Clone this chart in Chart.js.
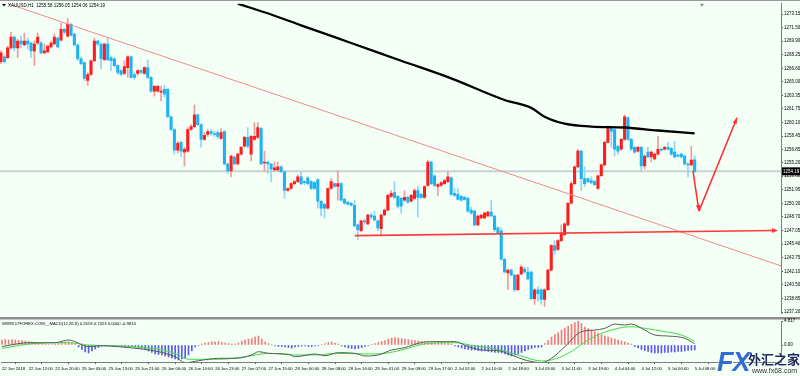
<!DOCTYPE html>
<html>
<head>
<meta charset="utf-8">
<script src="https://cdn.jsdelivr.net/npm/chart.js@4.4.1/dist/chart.umd.min.js"></script>
<style>
  body { margin: 0; width: 800px; height: 376px; overflow: hidden; position: relative; background: #f4fff6; font-family: "Liberation Sans", Arial, sans-serif; }
  #main { position: absolute; left: 0; top: 0; }
  #macd { position: absolute; left: 0; top: 317px; }
  #wm span { position: absolute; white-space: nowrap; }
  #wm .fx { left: 717px; top: 347px; font: italic bold 27px "Liberation Sans", Arial, sans-serif; color: #2f6fd2; text-shadow: 0 0 2px #fff, 1px 1px 0 #fff; letter-spacing: -1px; }
  #wm .cn { left: 748px; top: 352px; font: bold 13px "Noto Sans CJK SC", sans-serif; color: #1d2b5c; text-shadow: 0 0 2px #fff; line-height: 14px; }
  #wm .url { left: 752px; top: 367px; font: 7px "Liberation Sans", Arial, sans-serif; color: #333; line-height: 8px; text-shadow: 0 0 2px #fff; }
</style>
</head>
<body>
<canvas id="main" width="800" height="317"></canvas>
<canvas id="macd" width="800" height="59"></canvas>
<div id="wm"><span class="fx">FX</span><span class="cn">外汇之家</span><span class="url">www.fx68.com</span></div>
<script>
// XAUUSD H1, 22 Jun 2018 04:00 .. 5 Jul 2018 08:00 (one bar per hour)
const opens = [
  1267.42, 1268.01, 1267.90, 1269.08, 1270.39, 1269.08, 1269.91, 1269.44, 1269.91, 1269.68,
  1268.73, 1269.68, 1269.68, 1268.49, 1268.61, 1269.20, 1269.56, 1270.27, 1270.03, 1271.34,
  1270.51, 1271.93, 1270.74, 1269.44, 1267.78, 1267.30, 1265.17, 1265.88, 1267.54, 1269.91,
  1269.56, 1267.66, 1269.56, 1267.90, 1267.78, 1266.95, 1266.35, 1266.00, 1266.71, 1268.01,
  1265.88, 1266.00, 1266.35, 1266.00, 1266.71, 1265.52, 1263.86, 1263.86, 1263.74, 1264.10,
  1264.10, 1260.78, 1259.24, 1256.75, 1257.69, 1256.51, 1256.63, 1259.24, 1259.59, 1261.02,
  1259.83, 1258.05, 1258.64, 1259.00, 1258.76, 1258.88, 1258.17, 1259.00, 1255.08, 1254.25,
  1255.92, 1255.08, 1256.27, 1257.22, 1258.29, 1256.27, 1258.05, 1258.29, 1259.36, 1255.20,
  1255.32, 1255.08, 1254.37, 1254.37, 1254.73, 1254.14, 1251.88, 1252.12, 1252.71, 1252.95,
  1253.54, 1252.95, 1253.42, 1252.95, 1252.83, 1253.19, 1250.58, 1250.22, 1249.75, 1252.12,
  1252.71, 1252.36, 1252.71, 1250.81, 1250.46, 1250.34, 1250.10, 1247.73, 1247.02, 1248.21,
  1247.85, 1248.92, 1248.80, 1248.21, 1247.26, 1248.92, 1249.51, 1251.17, 1251.64, 1251.17,
  1250.93, 1250.70, 1251.05, 1250.58, 1250.93, 1251.88, 1251.41, 1251.05, 1252.48, 1255.32,
  1253.66, 1252.36, 1252.48, 1252.71, 1252.95, 1253.42, 1251.53, 1251.41, 1251.17, 1251.05,
  1250.93, 1249.51, 1249.39, 1247.73, 1248.56, 1248.56, 1248.80, 1249.27, 1248.80, 1247.37,
  1247.02, 1243.58, 1241.92, 1242.27, 1241.68, 1239.90, 1241.80, 1242.39, 1242.04, 1242.04,
  1238.83, 1239.90, 1239.90, 1238.72, 1239.90, 1242.27, 1245.24, 1244.77, 1245.83, 1246.54,
  1247.73, 1250.34, 1252.71, 1254.73, 1256.63, 1253.31, 1253.31, 1253.07, 1252.95, 1252.12,
  1253.66, 1254.97, 1257.69, 1259.47, 1259.24, 1257.22, 1256.86, 1258.05, 1260.66, 1258.05,
  1257.10, 1256.63, 1257.10, 1254.85, 1256.51, 1255.92, 1255.68, 1256.27, 1256.86, 1256.86,
  1257.10, 1256.98, 1256.51, 1256.15, 1256.27, 1256.03, 1255.08, 1254.97, 1255.58
];
const highs = [
  1268.73, 1268.25, 1269.32, 1270.98, 1270.51, 1270.15, 1270.51, 1270.86, 1270.27, 1269.79,
  1269.91, 1270.86, 1269.91, 1269.56, 1269.44, 1269.91, 1270.74, 1270.39, 1272.05, 1271.45,
  1272.64, 1272.05, 1270.86, 1269.56, 1268.01, 1267.42, 1266.12, 1267.66, 1270.27, 1270.03,
  1269.68, 1269.68, 1270.27, 1268.13, 1267.90, 1267.07, 1266.47, 1267.54, 1268.13, 1268.13,
  1266.12, 1266.47, 1266.47, 1266.83, 1267.66, 1265.64, 1264.57, 1264.57, 1264.46, 1264.57,
  1264.22, 1260.90, 1259.36, 1257.81, 1257.81, 1257.10, 1259.47, 1259.83, 1262.20, 1261.13,
  1259.95, 1258.88, 1259.24, 1259.24, 1259.00, 1259.12, 1259.36, 1259.12, 1255.20, 1256.15,
  1256.03, 1256.39, 1257.22, 1258.41, 1259.47, 1258.53, 1260.07, 1260.07, 1259.47, 1256.63,
  1255.44, 1255.20, 1255.32, 1255.32, 1254.85, 1254.25, 1252.24, 1252.83, 1253.07, 1253.78,
  1254.14, 1253.07, 1253.54, 1253.07, 1252.95, 1253.31, 1250.70, 1250.34, 1252.24, 1253.31,
  1252.83, 1254.25, 1252.83, 1250.93, 1250.58, 1250.46, 1250.70, 1247.85, 1248.32, 1248.44,
  1249.04, 1249.15, 1249.39, 1248.32, 1249.04, 1249.63, 1251.41, 1251.88, 1252.95, 1251.29,
  1251.05, 1251.88, 1251.17, 1251.41, 1252.12, 1252.36, 1251.53, 1252.48, 1255.56, 1255.44,
  1253.78, 1252.71, 1252.95, 1253.19, 1254.14, 1253.54, 1252.12, 1252.12, 1251.29, 1251.17,
  1251.05, 1249.87, 1249.51, 1248.92, 1249.04, 1249.27, 1249.39, 1250.70, 1248.92, 1247.49,
  1247.37, 1243.70, 1242.39, 1242.39, 1241.80, 1241.80, 1242.87, 1242.63, 1242.63, 1242.16,
  1240.02, 1240.26, 1240.02, 1240.02, 1242.39, 1245.36, 1245.83, 1245.95, 1247.73, 1247.97,
  1250.46, 1252.95, 1254.85, 1256.86, 1256.75, 1254.73, 1253.42, 1253.54, 1253.07, 1253.78,
  1255.08, 1257.81, 1259.71, 1259.59, 1259.36, 1257.34, 1258.17, 1261.02, 1260.78, 1258.17,
  1257.22, 1257.22, 1257.22, 1256.15, 1257.10, 1256.63, 1256.39, 1258.41, 1256.98, 1257.22,
  1257.69, 1257.10, 1257.81, 1256.27, 1256.39, 1256.15, 1255.20, 1257.22, 1256.05
];
const lows = [
  1267.18, 1267.30, 1267.78, 1268.96, 1268.73, 1267.90, 1269.08, 1269.32, 1268.96, 1267.90,
  1266.95, 1269.44, 1268.37, 1268.37, 1268.49, 1269.08, 1269.44, 1269.08, 1269.91, 1270.74,
  1270.39, 1270.51, 1269.32, 1267.54, 1267.07, 1265.17, 1264.57, 1265.76, 1267.42, 1269.32,
  1266.59, 1267.54, 1267.54, 1266.35, 1266.83, 1265.88, 1265.76, 1265.88, 1265.52, 1265.40,
  1265.29, 1265.76, 1266.00, 1265.88, 1265.40, 1263.74, 1263.27, 1263.74, 1262.68, 1263.15,
  1260.66, 1259.12, 1256.27, 1256.39, 1255.92, 1254.85, 1256.51, 1259.12, 1259.47, 1259.71,
  1257.10, 1257.93, 1258.41, 1258.53, 1258.41, 1258.17, 1258.05, 1254.97, 1253.90, 1253.54,
  1254.97, 1254.97, 1256.15, 1257.10, 1256.98, 1255.44, 1257.93, 1258.17, 1254.97, 1254.25,
  1253.90, 1252.95, 1254.25, 1254.25, 1254.02, 1250.93, 1251.76, 1252.00, 1252.59, 1252.83,
  1252.59, 1252.59, 1252.59, 1252.00, 1252.00, 1249.75, 1248.80, 1248.56, 1249.63, 1252.00,
  1252.24, 1250.70, 1250.58, 1250.22, 1250.10, 1249.98, 1247.49, 1245.95, 1246.90, 1247.85,
  1247.73, 1248.44, 1248.21, 1247.02, 1246.43, 1248.80, 1249.39, 1251.05, 1250.93, 1249.75,
  1249.15, 1250.58, 1250.34, 1250.46, 1250.81, 1248.68, 1250.93, 1250.93, 1252.36, 1252.59,
  1252.36, 1251.29, 1252.36, 1252.59, 1252.83, 1251.29, 1251.17, 1250.70, 1250.58, 1250.70,
  1249.27, 1249.04, 1247.61, 1247.61, 1248.44, 1248.44, 1248.68, 1248.68, 1246.90, 1246.66,
  1243.46, 1241.92, 1239.90, 1241.56, 1239.66, 1239.78, 1241.68, 1241.92, 1241.09, 1238.72,
  1238.12, 1238.48, 1238.12, 1237.89, 1239.78, 1242.16, 1244.17, 1244.65, 1245.71, 1246.43,
  1247.61, 1250.22, 1252.59, 1254.61, 1251.88, 1252.36, 1252.83, 1252.71, 1252.48, 1252.00,
  1253.54, 1254.85, 1257.58, 1257.10, 1256.03, 1256.27, 1256.75, 1257.93, 1257.93, 1256.75,
  1256.39, 1256.51, 1254.25, 1254.49, 1255.80, 1255.32, 1255.56, 1256.15, 1256.63, 1256.75,
  1256.75, 1256.15, 1255.80, 1255.92, 1255.80, 1254.97, 1253.54, 1254.85, 1254.06
];
const closes = [
  1268.49, 1267.42, 1269.08, 1270.39, 1269.08, 1269.91, 1269.56, 1269.91, 1269.56, 1268.73,
  1269.56, 1270.39, 1268.49, 1268.73, 1269.32, 1269.68, 1270.39, 1269.20, 1271.34, 1270.98,
  1271.93, 1270.62, 1269.44, 1267.78, 1267.18, 1265.40, 1265.88, 1267.54, 1269.91, 1269.56,
  1267.78, 1269.56, 1267.66, 1267.54, 1266.95, 1266.12, 1265.88, 1266.83, 1268.01, 1265.52,
  1265.52, 1266.35, 1266.12, 1266.71, 1265.52, 1263.86, 1264.46, 1264.46, 1263.86, 1263.51,
  1260.78, 1259.24, 1256.75, 1257.58, 1256.63, 1256.86, 1259.24, 1259.59, 1261.02, 1259.83,
  1258.05, 1258.53, 1259.00, 1258.76, 1258.64, 1258.41, 1258.88, 1255.08, 1254.25, 1256.03,
  1255.08, 1256.27, 1257.10, 1258.29, 1257.22, 1258.41, 1258.41, 1259.47, 1255.08, 1255.32,
  1255.08, 1254.49, 1254.61, 1254.73, 1254.14, 1251.88, 1252.12, 1252.71, 1252.95, 1253.54,
  1252.71, 1252.83, 1252.71, 1252.12, 1252.12, 1250.58, 1249.75, 1249.75, 1252.12, 1252.95,
  1252.36, 1252.71, 1250.70, 1250.34, 1250.22, 1250.10, 1247.61, 1247.14, 1248.21, 1248.09,
  1248.92, 1248.68, 1248.32, 1247.37, 1248.92, 1249.51, 1251.29, 1251.53, 1251.05, 1249.98,
  1249.98, 1251.05, 1250.46, 1251.29, 1251.88, 1251.05, 1251.05, 1252.36, 1255.32, 1252.71,
  1252.48, 1252.59, 1252.83, 1253.07, 1253.54, 1251.41, 1251.29, 1250.81, 1250.70, 1250.81,
  1249.39, 1249.15, 1247.73, 1248.80, 1248.92, 1249.15, 1249.27, 1248.80, 1247.14, 1246.78,
  1243.58, 1242.04, 1242.27, 1241.68, 1239.90, 1241.68, 1242.63, 1242.04, 1241.21, 1238.83,
  1239.90, 1239.43, 1238.72, 1239.90, 1242.27, 1245.24, 1244.65, 1245.83, 1246.78, 1247.85,
  1250.34, 1252.71, 1254.73, 1256.63, 1253.31, 1252.71, 1252.95, 1252.83, 1252.59, 1253.66,
  1254.97, 1257.69, 1259.47, 1259.00, 1256.86, 1256.63, 1258.05, 1260.78, 1258.05, 1256.86,
  1256.51, 1257.10, 1254.85, 1256.03, 1255.92, 1256.51, 1256.27, 1256.86, 1256.75, 1257.10,
  1256.86, 1256.27, 1255.92, 1256.03, 1255.92, 1255.08, 1254.97, 1255.56, 1254.19
];

// moving average (black), read at a few bars
const maIdx = [71, 81, 90, 105, 120, 135, 151, 159, 163, 169, 177, 187, 197, 208];
const maVal = [1274.42, 1273.12, 1271.81, 1269.68, 1267.54, 1265.41, 1262.80, 1261.85, 1260.78, 1259.95, 1259.59, 1259.48, 1259.12, 1258.77];

// MACD pane
const histVals = [
  1.0, 1.1, 1.0, 1.1, 1.0, 0.9, 0.9, 0.8, 0.7, 0.6,
  0.5, 0.4, 0.3, 0.2, 0.1, 0.1, 0.2, 0.3, 0.5, 0.6,
  0.6, 0.5, 0.3, -0.4, -0.9, -1.4, -1.6, -1.2, -0.8, -0.5,
  -0.3, -0.2, -0.2, -0.3, -0.3, -0.2, -0.3, -0.4, -0.3, -0.3,
  -0.4, -0.5, -0.7, -0.9, -1.2, -1.5, -1.8, -1.9, -2.0, -2.2,
  -2.4, -2.6, -2.8, -3.0, -2.8, -2.6, -2.0, -1.2, -0.4, -0.1,
  0.2, 0.4, 0.5, 0.6, 0.6, 0.7, 0.5, 0.4, 0.3, 0.2,
  0.2, 0.4, 0.8, 1.0, 1.2, 1.3, 1.6, 1.8, 1.2, 0.6,
  0.3, 0.1, -0.2, -0.3, -0.3, -0.4, -0.5, -0.6, -0.4, -0.3,
  -0.2, -0.2, -0.3, -0.3, -0.2, -0.1, 0.1, 0.3, 0.5, 0.6,
  0.4, 0.2, -0.2, -0.4, -0.6, -0.7, -0.8, -0.7, -0.5, -0.3,
  -0.1, 0.1, 0.3, 0.5, 0.7, 0.9, 1.2, 1.4, 1.5, 1.4,
  1.3, 1.2, 1.1, 1.0, 0.9, 0.8, 0.7, 0.6, 0.5, 0.5,
  0.5, 0.6, 0.5, 0.4, 0.3, 0.2, -0.2, -0.4, -0.6, -0.8,
  -0.9, -1.0, -1.0, -1.1, -1.2, -1.2, -1.3, -1.4, -1.5, -1.5,
  -1.6, -1.8, -2.0, -2.2, -2.0, -1.8, -1.5, -1.2, -0.9, -0.7,
  -0.5, -0.5, -0.4, 0.3, 0.9, 1.6, 2.1, 2.5, 3.0, 3.4,
  3.8, 4.2, 4.5, 4.817, 4.3, 3.6, 3.3, 3.0, 2.7, 2.4,
  2.1, 1.8, 1.6, 1.4, 1.2, 1.0, 0.8, 0.6, 0.4, 0.2,
  -0.3, -0.6, -0.9, -1.1, -1.3, -1.5, -1.6, -1.6, -1.6, -1.5,
  -1.5, -1.4, -1.4, -1.3, -1.3, -1.2, -1.1, -1.0, -0.98
];
const macdIdx = [0, 8, 16, 20, 26, 30, 35, 42, 47, 52, 55, 59, 65, 70, 75, 77, 80, 86, 88, 94, 97, 101, 106, 109, 113, 117, 120, 128, 136, 140, 144, 149, 153, 157, 162, 165, 169, 174, 178, 181, 184, 187, 189, 193, 196, 200, 205, 208];
const macdVal = [-0.3, 0.46, 0.46, 1.0, -0.34, -0.13, -0.34, -0.8, -1.34, -2.35, -3.55, -3.15, -2.67, -2.67, -2.0, -1.34, -1.67, -1.87, -2.35, -1.8, -2.15, -1.54, -1.67, -2.2, -2.0, -1.0, -0.67, 0.67, 0.67, -0.33, -1.0, -1.14, -2.0, -3.0, -3.55, -2.67, -0.33, 2.67, 3.0, 3.35, 4.2, 4.0, 4.2, 3.0, 2.0, 1.8, 1.35, 0.25];
const sigIdx = [0, 10, 20, 26, 35, 45, 52, 56, 65, 73, 80, 88, 95, 100, 110, 115, 120, 128, 136, 142, 149, 155, 162, 165, 170, 176, 180, 185, 189, 193, 199, 204, 208];
const sigVal = [-0.67, 0.33, 0.46, 0.0, -0.2, -0.67, -1.67, -2.87, -2.87, -2.35, -1.67, -2.0, -2.0, -1.67, -1.8, -1.67, -1.0, 0.33, 0.46, -0.2, -0.87, -2.0, -3.2, -3.0, -1.67, 1.0, 2.35, 3.35, 3.67, 3.35, 2.67, 2.0, 0.74];

// axis labels
const priceTicks = [1273.15, 1271.50, 1269.90, 1268.25, 1266.60, 1265.00, 1263.35, 1261.75, 1260.10, 1258.45, 1256.85, 1255.20, 1253.60, 1251.95, 1250.30, 1248.70, 1247.05, 1245.40, 1243.75, 1242.10, 1240.50, 1238.85, 1237.20];
const macdTicks = [4.817, 0];
const macdTickLabels = ['4.817', '0.00'];
const timeTicks = [0, 8, 16, 24, 32, 40, 48, 56, 64, 72, 80, 88, 96, 104, 112, 120, 128, 136, 144, 152, 160, 168, 176, 184, 192, 200, 208];
const timeLabels = ['22 Jun 2018', '22 Jun 12:00', '22 Jun 20:00', '25 Jun 05:00', '25 Jun 13:00', '25 Jun 21:00', '26 Jun 06:00', '26 Jun 14:00', '26 Jun 23:00', '27 Jun 07:00', '27 Jun 15:00', '28 Jun 00:00', '28 Jun 08:00', '28 Jun 16:00', '29 Jun 01:00', '29 Jun 09:00', '29 Jun 17:00', '2 Jul 02:00', '2 Jul 10:00', '2 Jul 18:00', '3 Jul 03:00', '3 Jul 11:00', '3 Jul 19:00', '4 Jul 04:00', '4 Jul 12:00', '5 Jul 00:00', '5 Jul 08:00'];

// hand drawn lines on the chart, in (bar, price)
const trendLine = [[2.1, 1274.42], [233.9, 1242.78]];
const supportLine = [[106.1, 1246.43], [233.0, 1247.06]];
const forecastPath = [[207.5, 1254.26], [209.3, 1249.39], [220.7, 1260.66]];

const lastPrice = 1254.19;
const headerText = 'XAUUSD,H1  1255.58 1256.05 1254.06 1254.19';
const macdTitle = 'WWW.17FOREX.COM__MACD(12,26,9) 0.2518 0.7423 0.0000 -0.9814';

const X_MIN = -0.3, X_MAX = 233.9;
const AXIS_W = 19;
const FONT = '"Liberation Sans", Arial, sans-serif';

Chart.defaults.font.family = FONT;
Chart.defaults.color = '#000';

const isUp = i => closes[i] >= opens[i];

function arrowHead(ctx, x0, y0, x1, y1, len, wid) {
    const a = Math.atan2(y1 - y0, x1 - x0);
    const bx = x1 - len * Math.cos(a), by = y1 - len * Math.sin(a);
    ctx.beginPath();
    ctx.moveTo(x1, y1);
    ctx.lineTo(bx + wid * Math.sin(a), by - wid * Math.cos(a));
    ctx.lineTo(bx - wid * Math.sin(a), by + wid * Math.cos(a));
    ctx.closePath();
    ctx.fill();
}

const mainOverlay = {
    id: 'mainOverlay',
    beforeDatasetsDraw(chart) {
        const {ctx, chartArea: a, scales: {y}} = chart;
        const py = y.getPixelForValue(lastPrice);
        ctx.save();
        ctx.strokeStyle = '#c9d2d2';
        ctx.lineWidth = 2;
        ctx.beginPath();
        ctx.moveTo(a.left, py);
        ctx.lineTo(a.right, py);
        ctx.stroke();
        ctx.restore();
    },
    afterDatasetsDraw(chart) {
        const {ctx, chartArea: a, scales: {x, y}} = chart;
        const px = p => [x.getPixelForValue(p[0]), y.getPixelForValue(p[1])];
        ctx.save();
        ctx.beginPath();
        ctx.rect(a.left, a.top, a.right - a.left, a.bottom - a.top);
        ctx.clip();

        // falling trend line
        let [x0, y0] = px(trendLine[0]), [x1, y1] = px(trendLine[1]);
        ctx.strokeStyle = '#f08a8a';
        ctx.lineWidth = 1;
        ctx.beginPath(); ctx.moveTo(x0, y0); ctx.lineTo(x1, y1); ctx.stroke();

        // support line with arrow
        [x0, y0] = px(supportLine[0]); [x1, y1] = px(supportLine[1]);
        ctx.strokeStyle = '#ff3b3b';
        ctx.fillStyle = '#ff3b3b';
        ctx.lineWidth = 1.6;
        ctx.beginPath(); ctx.moveTo(x0, y0); ctx.lineTo(x1 - 4, y1); ctx.stroke();
        arrowHead(ctx, x0, y0, x1, y1, 6, 2.5);

        // forecast path
        const pts = forecastPath.map(px);
        ctx.strokeStyle = '#ff2a2a';
        ctx.fillStyle = '#ff2a2a';
        ctx.lineWidth = 1.5;
        for (let i = 0; i < pts.length - 1; i++) {
            ctx.beginPath(); ctx.moveTo(pts[i][0], pts[i][1]); ctx.lineTo(pts[i + 1][0], pts[i + 1][1]); ctx.stroke();
            arrowHead(ctx, pts[i][0], pts[i][1], pts[i + 1][0], pts[i + 1][1], 6, 2.2);
        }
        ctx.restore();
    },
    afterDraw(chart) {
        const {ctx, chartArea: a, scales: {x, y}} = chart;
        ctx.save();
        // header
        ctx.fillStyle = '#000';
        ctx.font = '4.5px ' + FONT;
        ctx.textBaseline = 'middle';
        ctx.beginPath();
        ctx.moveTo(2, 4); ctx.lineTo(6, 4); ctx.lineTo(4, 6.5); ctx.closePath(); ctx.fill();
        ctx.fillText(headerText, 8, 5.5);

        // chart shift marker
        const sx = x.getPixelForValue(210.2);
        ctx.fillStyle = '#8a8a8a';
        ctx.beginPath();
        ctx.moveTo(sx - 2, a.top); ctx.lineTo(sx + 2, a.top); ctx.lineTo(sx, a.top + 3); ctx.closePath(); ctx.fill();

        // last price tag
        const py = y.getPixelForValue(lastPrice);
        ctx.fillStyle = '#000';
        ctx.fillRect(a.right + 1, py - 4, AXIS_W, 8);
        ctx.fillStyle = '#fff';
        ctx.font = '4.5px ' + FONT;
        ctx.fillText(lastPrice.toFixed(2), a.right + 2, py + 0.5);

        // top frame
        ctx.fillStyle = '#9a9a9a';
        ctx.fillRect(0, 0, 800, 1);
        ctx.restore();
    }
};

const bodyData = opens.map((o, i) => ({x: i, y: [o, closes[i]]}));
const wickData = highs.map((h, i) => ({x: i, y: [lows[i], h]}));
const maData = maIdx.map((v, i) => ({x: v, y: maVal[i]}));

new Chart(document.getElementById('main'), {
    type: 'bar',
    data: {
        datasets: [
            {
                type: 'line',
                data: maData,
                borderColor: '#000',
                borderWidth: 2.3,
                pointRadius: 0,
                cubicInterpolationMode: 'monotone',
                order: -1
            },
            {
                data: bodyData,
                backgroundColor: c => isUp(c.dataIndex) ? '#ff1c1c' : '#1db3f2',
                barThickness: 2.4,
                minBarLength: 1,
                grouped: false,
                order: 0
            },
            {
                data: wickData,
                backgroundColor: c => isUp(c.dataIndex) ? '#f39a9a' : '#8fd5f6',
                barThickness: 1,
                grouped: false,
                order: 1
            }
        ]
    },
    options: {
        responsive: false,
        animation: false,
        devicePixelRatio: 1,
        layout: {padding: {top: 2, bottom: 0, left: 0, right: 0}},
        plugins: {legend: {display: false}, tooltip: {enabled: false}},
        scales: {
            x: {
                type: 'linear',
                min: X_MIN,
                max: X_MAX,
                offset: false,
                display: false
            },
            y: {
                type: 'linear',
                position: 'right',
                min: 1237.06,
                max: 1274.42,
                beginAtZero: false,
                afterBuildTicks: s => { s.ticks = priceTicks.map(v => ({value: v})); },
                afterFit: s => { s.width = AXIS_W; },
                border: {display: true, color: '#7d7d7d', width: 1},
                grid: {drawOnChartArea: false, drawTicks: true, tickLength: 2, color: '#555'},
                ticks: {
                    autoSkip: false,
                    padding: 1,
                    font: {size: 4.5},
                    callback: v => v.toFixed(2)
                }
            }
        }
    },
    plugins: [mainOverlay]
});

const macdOverlay = {
    id: 'macdOverlay',
    beforeDraw(chart) {
        const {ctx} = chart;
        ctx.save();
        ctx.fillStyle = '#8c8c8c';
        ctx.fillRect(0, 0, 800, 2.5);
        ctx.restore();
    },
    afterDraw(chart) {
        const {ctx} = chart;
        ctx.save();
        ctx.fillStyle = '#000';
        ctx.font = '4.2px ' + FONT;
        ctx.textBaseline = 'middle';
        ctx.fillText(macdTitle, 2, 7);
        ctx.restore();
    }
};

new Chart(document.getElementById('macd'), {
    type: 'bar',
    data: {
        datasets: [
            {
                type: 'line',
                data: macdIdx.map((v, i) => ({x: v, y: macdVal[i]})),
                borderColor: '#5a5a5a',
                borderWidth: 1,
                pointRadius: 0,
                cubicInterpolationMode: 'monotone',
                order: -2
            },
            {
                type: 'line',
                data: sigIdx.map((v, i) => ({x: v, y: sigVal[i]})),
                borderColor: '#3ee03e',
                borderWidth: 1,
                pointRadius: 0,
                cubicInterpolationMode: 'monotone',
                order: -1
            },
            {
                data: histVals.map((v, i) => ({x: i, y: v})),
                backgroundColor: c => histVals[c.dataIndex] >= 0 ? '#f07c7c' : '#5a5af0',
                barThickness: 1,
                grouped: false,
                order: 0
            }
        ]
    },
    options: {
        responsive: false,
        animation: false,
        devicePixelRatio: 1,
        layout: {padding: {top: 4, bottom: 0, left: 0, right: 0}},
        plugins: {legend: {display: false}, tooltip: {enabled: false}},
        scales: {
            x: {
                type: 'linear',
                min: X_MIN,
                max: X_MAX,
                offset: false,
                position: 'bottom',
                afterBuildTicks: s => { s.ticks = timeTicks.map(v => ({value: v})); },
                afterFit: s => { s.height = 14; },
                border: {display: true, color: '#7d7d7d', width: 1},
                grid: {drawOnChartArea: false, drawTicks: true, tickLength: 2, color: '#555'},
                ticks: {
                    autoSkip: false,
                    maxRotation: 0,
                    align: 'start',
                    padding: 2,
                    font: {size: 4.2},
                    callback: (v, i) => timeLabels[i]
                }
            },
            y: {
                type: 'linear',
                position: 'right',
                min: -3.41,
                max: 4.817,
                beginAtZero: false,
                afterBuildTicks: s => { s.ticks = macdTicks.map(v => ({value: v})); },
                afterFit: s => { s.width = AXIS_W; },
                border: {display: true, color: '#7d7d7d', width: 1},
                grid: {drawOnChartArea: false, drawTicks: true, tickLength: 2, color: '#555'},
                ticks: {
                    autoSkip: false,
                    padding: 1,
                    font: {size: 4.5},
                    callback: (v, i) => macdTickLabels[i]
                }
            }
        }
    },
    plugins: [macdOverlay]
});
</script>
</body>
</html>
